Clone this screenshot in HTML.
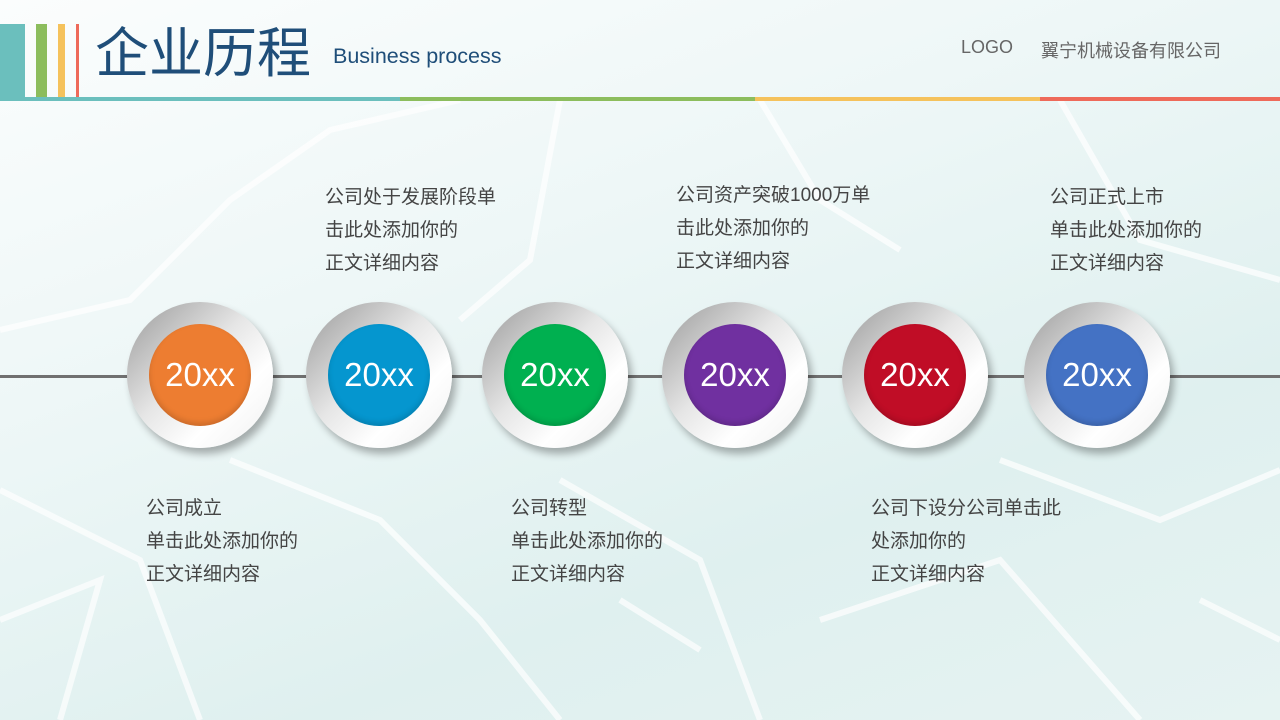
<!DOCTYPE html>
<html><head><meta charset="utf-8"><style>
*{margin:0;padding:0;box-sizing:border-box}
body{width:1280px;height:720px;overflow:hidden;position:relative;font-family:"Liberation Sans","Noto Sans CJK SC",sans-serif;background:linear-gradient(160deg,#fbfdfd 0%,#eef7f7 35%,#dff0ef 70%,#e6f3f2 100%)}
.a{position:absolute}
.c{position:absolute;width:146px;height:146px;border-radius:50%;top:302px;background:linear-gradient(135deg,#9a9a9a 0%,#e6e6e6 45%,#ffffff 70%,#f0f0f0 100%);box-shadow:4px 6px 8px rgba(0,0,0,.3)}
.c div{position:absolute;left:22px;top:22px;width:102px;height:102px;border-radius:50%;color:#fff;font-size:33px;line-height:102px;text-align:center;box-shadow:inset 0 -3px 6px rgba(0,0,0,.15)}
.t{position:absolute;font-size:19px;line-height:33px;color:#444}
</style></head><body>
<svg class="a" style="left:0;top:0" width="1280" height="720">
<g stroke="#fff" stroke-width="6" fill="none" opacity=".7">
<path d="M0 330 L130 300 L230 200 L330 130 L460 100"/><path d="M460 320 L530 260 L560 100"/><path d="M0 490 L140 560 L200 720"/><path d="M230 460 L380 520 L480 620 L560 720"/><path d="M560 480 L700 560 L760 720"/><path d="M820 620 L1000 560 L1140 720"/><path d="M1000 460 L1160 520 L1280 470"/><path d="M1060 100 L1140 240 L1280 280"/><path d="M760 100 L820 200 L900 250"/><path d="M0 620 L100 580 L60 720"/><path d="M1200 600 L1280 640"/><path d="M620 600 L700 650"/>
</g></svg>
<div class="a" style="left:0;top:24px;width:25px;height:74px;background:#6bbfbd"></div>
<div class="a" style="left:36px;top:24px;width:11px;height:74px;background:#8cbd5d"></div>
<div class="a" style="left:58px;top:24px;width:7px;height:74px;background:#f5c25c"></div>
<div class="a" style="left:76px;top:24px;width:3px;height:74px;background:#ee6a5a"></div>
<div class="a" style="left:0;top:97px;width:400px;height:4px;background:#6bbfbd"></div>
<div class="a" style="left:400px;top:97px;width:355px;height:4px;background:#8cbd5d"></div>
<div class="a" style="left:755px;top:97px;width:285px;height:4px;background:#f5c25c"></div>
<div class="a" style="left:1040px;top:97px;width:240px;height:4px;background:#ee6a5a"></div>
<div class="a" style="left:95px;top:22px;font-size:54px;line-height:64px;color:#1f4e79">企业历程</div>
<div class="a" style="left:333px;top:44px;font-size:21.5px;color:#1f4e79">Business process</div>
<div class="a" style="left:961px;top:37px;font-size:18px;color:#666">LOGO</div>
<div class="a" style="left:1041px;top:37px;font-size:18px;color:#666">翼宁机械设备有限公司</div>
<div class="a" style="left:0;top:375px;width:1280px;height:3px;background:#707070"></div>
<div class="c" style="left:127px"><div style="background:#ed7d31">20xx</div></div>
<div class="c" style="left:306px"><div style="background:#0596cf">20xx</div></div>
<div class="c" style="left:482px"><div style="background:#00b050">20xx</div></div>
<div class="c" style="left:662px"><div style="background:#7030a0">20xx</div></div>
<div class="c" style="left:842px"><div style="background:#c00d26">20xx</div></div>
<div class="c" style="left:1024px"><div style="background:#4472c4">20xx</div></div>
<div class="t" style="left:325px;top:181px">公司处于发展阶段单<br>击此处添加你的<br>正文详细内容</div>
<div class="t" style="left:676px;top:179px">公司资产突破1000万单<br>击此处添加你的<br>正文详细内容</div>
<div class="t" style="left:1050px;top:181px">公司正式上市<br>单击此处添加你的<br>正文详细内容</div>
<div class="t" style="left:146px;top:492px">公司成立<br>单击此处添加你的<br>正文详细内容</div>
<div class="t" style="left:511px;top:492px">公司转型<br>单击此处添加你的<br>正文详细内容</div>
<div class="t" style="left:871px;top:492px">公司下设分公司单击此<br>处添加你的<br>正文详细内容</div>
</body></html>
